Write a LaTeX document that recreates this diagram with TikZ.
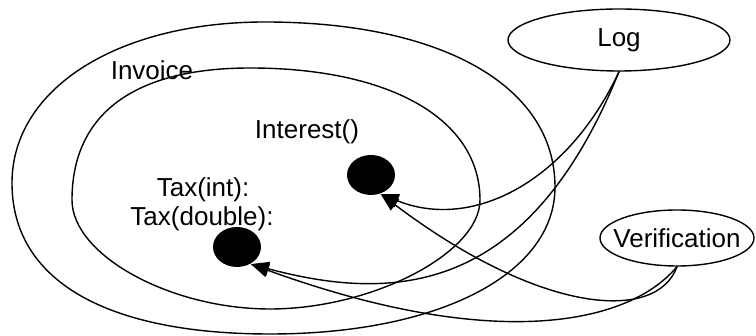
\documentclass[tikz,border=0pt]{standalone}
\usepackage{fontspec}
\setmainfont{Liberation Sans}
\usetikzlibrary{arrows.meta,shapes.geometric}
\tikzset{
  diagram/.style={
    x=0.5pt, y=0.5pt,
    line width=0.7pt, line cap=round, line join=round,
    every node/.style={font=\fontsize{13}{15}\selectfont},
  },
  actor/.style={draw, ellipse, inner xsep=-14pt, inner ysep=0pt},
  method/.style={ellipse, fill=black, inner sep=0pt, minimum width=24pt, minimum height=20pt},
  advice/.style={-{Triangle[length=9pt,width=7pt]}},
}
\begin{document}
\begin{tikzpicture}[diagram]
  \useasboundingbox (0,0) rectangle (756,336);
  % the class and its inner region
  \draw (12,153) .. controls +(0,94) and +(-148,0) .. (265,314)
    .. controls +(177,0) and +(0,101) .. (555,149)
    .. controls +(0,-87) and +(169,0) .. (270,2)
    .. controls +(-165,0) and +(0,-97) .. (12,153);
  \draw (72,136) .. controls +(0,86) and +(-116,0) .. (250,268)
    .. controls +(140,0) and +(0,81) .. (480,136)
    .. controls +(0,-53) and +(102,0) .. (270,27)
    .. controls +(-100,0) and +(0,-55) .. (72,136);
  \node (invoice) at (152,266) {Invoice};
  \node (interestlabel) at (307,204) {Interest()};
  \node (taxint) at (203,146) {Tax(int):};
  \node (taxdouble) at (202,117) {Tax(double):};
  % join points
  \node[method] (interest) at (371,161) {};
  \node[method] (tax) at (237,89) {};
  % aspects
  \node[actor, minimum width=111pt, minimum height=31pt] (log) at (619,296) {Log};
  \node[actor, minimum width=77pt, minimum height=28pt] (verification) at (677,98) {Verification};
  \draw[advice] (log.south) .. controls +(-115:120) and +(-22:100) .. (interest.-63);
  \draw[advice] (log.south) .. controls +(-112:240) and +(-15:150) .. (tax.-51);
  \draw[advice] (verification.south) .. controls +(-110:60) and +(-37:200) .. (interest.-63);
  \draw[advice] (verification.south) .. controls +(-130:80) and +(-20:250) .. (tax.-51);
\end{tikzpicture}
\end{document}
